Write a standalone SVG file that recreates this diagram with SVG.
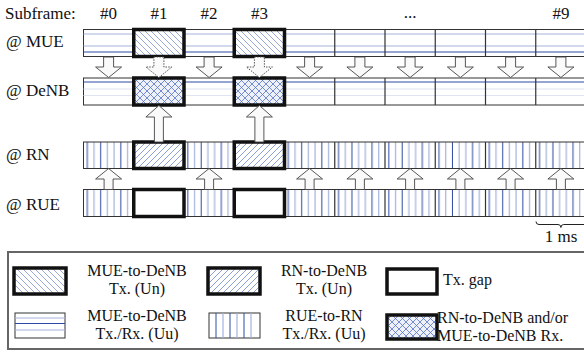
<svg xmlns="http://www.w3.org/2000/svg" width="584" height="356" viewBox="0 0 584 356" font-family="'Liberation Serif', 'Times New Roman', serif">
<style>
text{font-family:"Liberation Serif","Times New Roman",serif;font-size:17px;fill:#111}
#legend text{font-size:16px}
.bar{stroke:#333;stroke-width:1}
.sep{stroke:#333;stroke-width:1.2}
.lt{stroke:#a6b3dc;stroke-width:1.2}
.dk{stroke:#2f4ba3;stroke-width:1}
.ft{stroke:#dfe4f3;stroke-width:1.2}
.thick{stroke:#111;stroke-width:3.5}
.arr{fill:#fafafa;stroke:#444;stroke-width:0.9}
.dot{stroke-dasharray:1.5 1.2}
.leg{fill:#fff;stroke:#666;stroke-width:2}
</style>
<defs>
<pattern id="back" patternUnits="userSpaceOnUse" width="6" height="6">
<rect width="6" height="6" fill="#fff"/>
<path d="M0,0L6,6M-1,5L1,7M5,-1L7,1" stroke="#7f93d0" stroke-width="0.8"/>
</pattern>
<pattern id="fwd" patternUnits="userSpaceOnUse" width="6" height="6">
<rect width="6" height="6" fill="#fff"/>
<path d="M0,6L6,0M-1,1L1,-1M5,7L7,5" stroke="#6f86cc" stroke-width="0.8"/>
</pattern>
<pattern id="cross" patternUnits="userSpaceOnUse" width="7" height="7">
<rect width="7" height="7" fill="#eef1fa"/>
<path d="M0,0L7,7M-1,6L1,8M6,-1L8,1M0,7L7,0M-1,1L1,-1M6,8L8,6" stroke="#5672c6" stroke-width="0.8"/>
</pattern>
<pattern id="vert" patternUnits="userSpaceOnUse" x="83.5" y="0" width="50.25" height="20">
<rect width="50.25" height="20" fill="#fff"/>
<path d="M3.8,0V20M17.2,0V20M37.3,0V20" stroke="#2f4ba3" stroke-width="1"/>
<path d="M10.5,0V20M23.9,0V20M30.6,0V20M44,0V20" stroke="#a6b3dc" stroke-width="1.2"/>
</pattern>
</defs>

<g id="header">
<text x="5" y="19">Subframe:</text>
<text x="108.6" y="19" text-anchor="middle">#0</text>
<text x="158.9" y="19" text-anchor="middle">#1</text>
<text x="209.1" y="19" text-anchor="middle">#2</text>
<text x="259.4" y="19" text-anchor="middle">#3</text>
<text x="410.1" y="18" text-anchor="middle">...</text>
<text x="560.9" y="19" text-anchor="middle">#9</text>
</g>

<g id="row-mue">
<text x="6" y="47">@ MUE</text>
<rect class="bar" x="83.5" y="29.5" width="510" height="27" fill="#fff"/>
<path class="lt" d="M83.5,34H594M83.5,46H594"/>
<path class="dk" d="M83.5,52H594"/>
<path class="sep" d="M133.75,29.5v27M184,29.5v27M234.25,29.5v27M284.5,29.5v27M334.75,29.5v27M385,29.5v27M435.25,29.5v27M485.5,29.5v27M535.75,29.5v27"/>
<rect class="thick" x="133.75" y="29.5" width="50.25" height="27" fill="url(#back)"/>
<rect class="thick" x="234.25" y="29.5" width="50.25" height="27" fill="url(#back)"/>
</g>

<g id="row-denb">
<text x="6" y="96">@ DeNB</text>
<rect class="bar" x="83.5" y="78" width="510" height="27" fill="#fff"/>
<path class="dk" d="M83.5,82H594"/>
<path class="ft" d="M83.5,89H594M83.5,95.5H594"/>
<path class="sep" d="M133.75,78v27M184,78v27M234.25,78v27M284.5,78v27M334.75,78v27M385,78v27M435.25,78v27M485.5,78v27M535.75,78v27"/>
<rect class="thick" x="133.75" y="78" width="50.25" height="27" fill="url(#cross)"/>
<rect class="thick" x="234.25" y="78" width="50.25" height="27" fill="url(#cross)"/>
</g>

<g id="row-rn">
<text x="6" y="160">@ RN</text>
<rect class="bar" x="83.5" y="142" width="510" height="26.5" fill="url(#vert)"/>
<path class="sep" d="M133.75,142v26.5M184,142v26.5M234.25,142v26.5M284.5,142v26.5M334.75,142v26.5M385,142v26.5M435.25,142v26.5M485.5,142v26.5M535.75,142v26.5"/>
<rect class="thick" x="133.75" y="142" width="50.25" height="26.5" fill="url(#fwd)"/>
<rect class="thick" x="234.25" y="142" width="50.25" height="26.5" fill="url(#fwd)"/>
</g>

<g id="row-rue">
<text x="6" y="210">@ RUE</text>
<rect class="bar" x="83.5" y="189.5" width="510" height="27" fill="url(#vert)"/>
<path class="sep" d="M133.75,189.5v27M184,189.5v27M234.25,189.5v27M284.5,189.5v27M334.75,189.5v27M385,189.5v27M435.25,189.5v27M485.5,189.5v27M535.75,189.5v27"/>
<rect class="thick" x="133.75" y="189.5" width="50.25" height="27" fill="#fff"/>
<rect class="thick" x="234.25" y="189.5" width="50.25" height="27" fill="#fff"/>
</g>

<g id="connectors">
<g id="down-arrows">
<path class="arr" d="M103.6,57H113.6V67H121.6L108.6,77.5L95.6,67H103.6Z"/>
<path class="arr dot" d="M153.9,57H163.9V67H171.9L158.9,77.5L145.9,67H153.9Z"/>
<path class="arr" d="M204.1,57H214.1V67H222.1L209.1,77.5L196.1,67H204.1Z"/>
<path class="arr dot" d="M254.4,57H264.4V67H272.4L259.4,77.5L246.4,67H254.4Z"/>
<path class="arr" d="M304.6,57H314.6V67H322.6L309.6,77.5L296.6,67H304.6Z"/>
<path class="arr" d="M354.9,57H364.9V67H372.9L359.9,77.5L346.9,67H354.9Z"/>
<path class="arr" d="M405.1,57H415.1V67H423.1L410.1,77.5L397.1,67H405.1Z"/>
<path class="arr" d="M455.4,57H465.4V67H473.4L460.4,77.5L447.4,67H455.4Z"/>
<path class="arr" d="M505.6,57H515.6V67H523.6L510.6,77.5L497.6,67H505.6Z"/>
<path class="arr" d="M555.9,57H565.9V67H573.9L560.9,77.5L547.9,67H555.9Z"/>
</g>
<g id="rn-to-denb">
<path class="arr" d="M158.9,105.5L171.9,117H163.4V142H154.4V117H145.9Z"/>
<path class="arr" d="M259.4,105.5L272.4,117H263.9V142H254.9V117H246.4Z"/>
</g>
<g id="rue-to-rn">
<path class="arr" d="M108.6,168.5L121.6,179H113.1V189.5H104.1V179H95.6Z"/>
<path class="arr" d="M209.1,168.5L222.1,179H213.6V189.5H204.6V179H196.1Z"/>
<path class="arr" d="M309.6,168.5L322.6,179H314.1V189.5H305.1V179H296.6Z"/>
<path class="arr" d="M359.9,168.5L372.9,179H364.4V189.5H355.4V179H346.9Z"/>
<path class="arr" d="M410.1,168.5L423.1,179H414.6V189.5H405.6V179H397.1Z"/>
<path class="arr" d="M460.4,168.5L473.4,179H464.9V189.5H455.9V179H447.4Z"/>
<path class="arr" d="M510.6,168.5L523.6,179H515.1V189.5H506.1V179H497.6Z"/>
<path class="arr" d="M560.9,168.5L573.9,179H565.4V189.5H556.4V179H547.9Z"/>
</g>
</g>

<g id="brace">
<path d="M536,221.5Q536,224.5 539,224.5H558Q560.9,224.5 560.9,227.5Q560.9,224.5 563.8,224.5H590" fill="none" stroke="#222" stroke-width="1"/>
<text x="561" y="242" text-anchor="middle">1 ms</text>
</g>

<g id="legend">
<rect class="leg" x="8" y="252" width="590" height="97"/>
<g id="leg-mue-un">
<rect class="thick" x="14" y="268" width="52" height="26" fill="url(#back)"/>
<text x="137" y="276" text-anchor="middle">MUE-to-DeNB</text>
<text x="137" y="294" text-anchor="middle">Tx. (Un)</text>
</g>
<g id="leg-mue-uu">
<rect x="15" y="313" width="50" height="25" fill="#fff" stroke="#333" stroke-width="1"/>
<path class="lt" d="M15,318H65M15,330H65"/>
<path class="dk" d="M15,323.5H65"/>
<text x="137" y="321" text-anchor="middle">MUE-to-DeNB</text>
<text x="137" y="339" text-anchor="middle">Tx./Rx. (Uu)</text>
</g>
<g id="leg-rn-un">
<rect class="thick" x="208" y="268" width="52" height="26" fill="url(#fwd)"/>
<text x="324" y="276" text-anchor="middle">RN-to-DeNB</text>
<text x="324" y="294" text-anchor="middle">Tx. (Un)</text>
</g>
<g id="leg-rue-uu">
<rect x="209" y="313" width="51" height="25" fill="#fff" stroke="#333" stroke-width="1"/>
<path d="M216,313V338M230,313V338M244,313V338" stroke="#2f4ba3" stroke-width="1"/>
<path d="M223,313V338M237,313V338M251,313V338" stroke="#a6b3dc" stroke-width="1.2"/>
<text x="324" y="321" text-anchor="middle">RUE-to-RN</text>
<text x="324" y="339" text-anchor="middle">Tx./Rx. (Uu)</text>
</g>
<g id="leg-gap">
<rect class="thick" x="387" y="269" width="50" height="25" fill="#fff"/>
<text x="443" y="285">Tx. gap</text>
</g>
<g id="leg-rx">
<rect class="thick" x="387" y="315" width="50" height="24" fill="url(#cross)"/>
<text x="437" y="323">RN-to-DeNB and/or</text>
<text x="437" y="341">MUE-to-DeNB Rx.</text>
</g>
</g>
</svg>
